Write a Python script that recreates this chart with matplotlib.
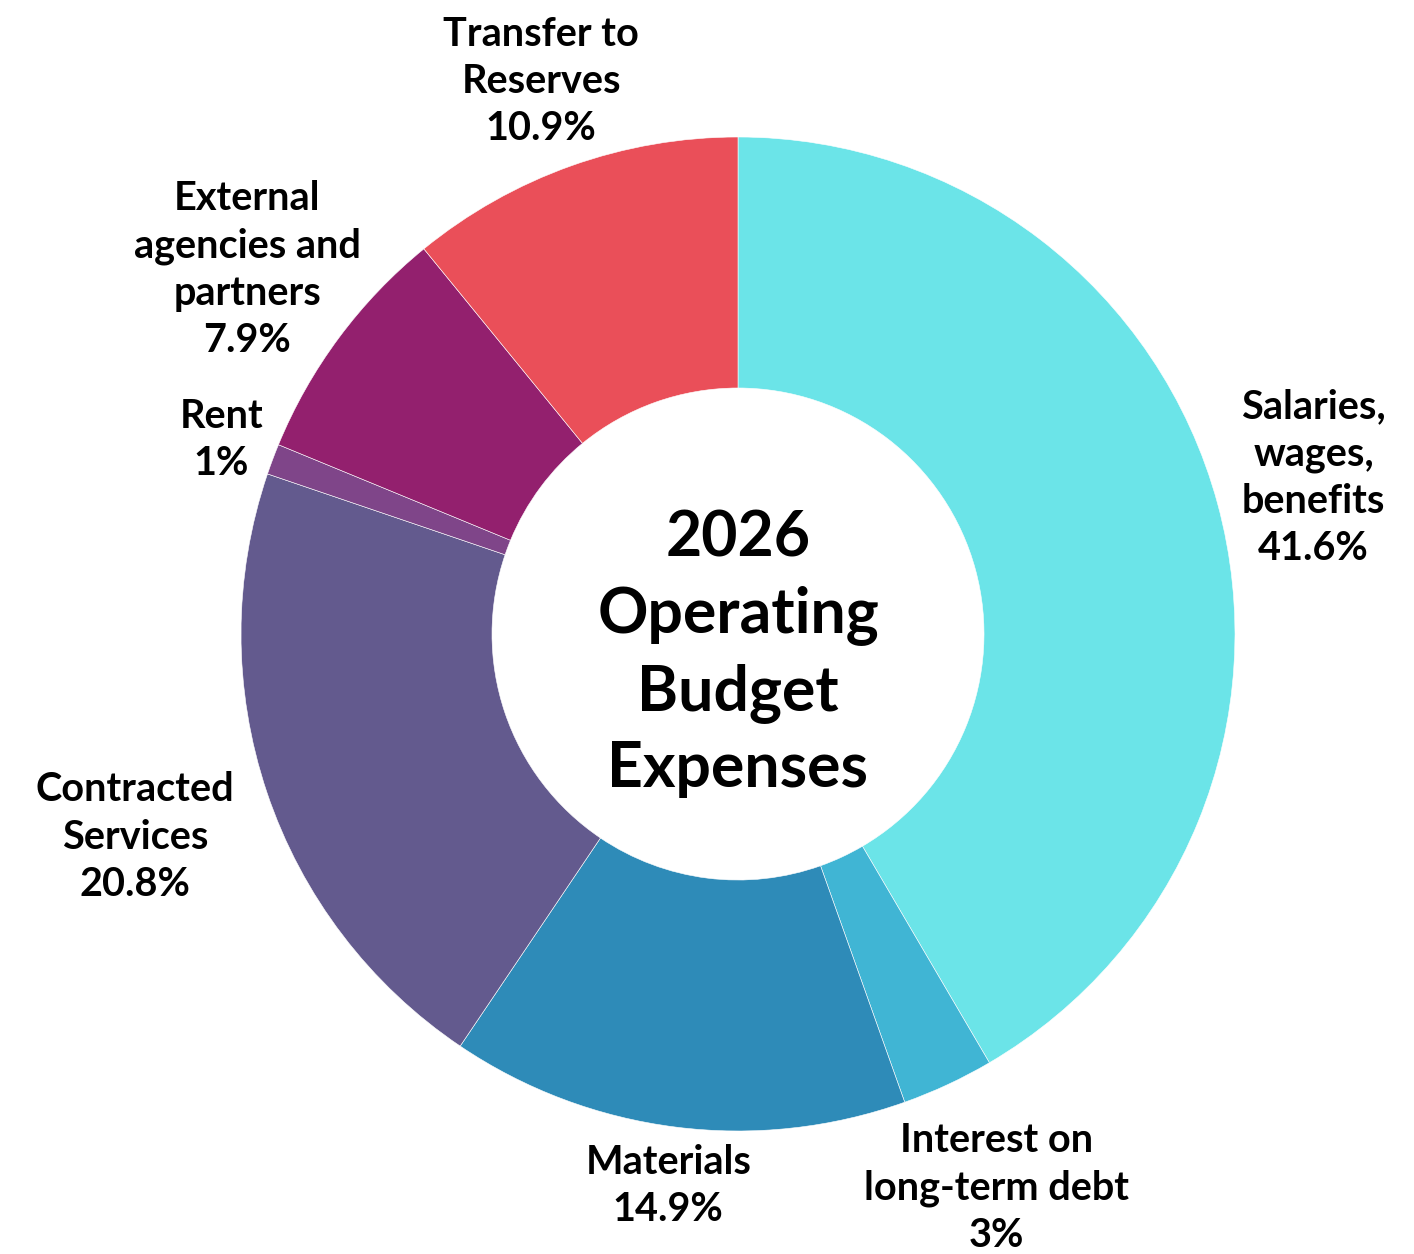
import numpy as np
from matplotlib import pyplot as plt

categories = ['Salaries,\nwages,\nbenefits', 'Interest on\nlong-term debt',
              'Materials', 'Contracted\nServices', 'Rent',
              'External\nagencies and\npartners', 'Transfer to\nReserves']
shares = [41.6, 3, 14.9, 20.8, 1, 7.9, 10.9]
pct_text = ['41.6%', '3%', '14.9%', '20.8%', '1%', '7.9%', '10.9%']

colors = ['#6BE4E8', '#40B5D4', '#2E8BB8', '#635A8E', '#7F4589', '#93206E', '#EA4F59']
# how far out each label sits, in units of the outer radius
label_r = [1.20, 1.23, 1.12, 1.28, 1.11, 1.23, 1.18]

plt.rcParams['font.family'] = ['Lato', 'DejaVu Sans']

fig = plt.figure(figsize=(14.14, 12.54), dpi=100)
ax = fig.add_axes([0, 0, 1, 1])

wedges, _ = ax.pie(shares, colors=colors, startangle=90, counterclock=False,
                   radius=1.0, wedgeprops=dict(width=0.505, edgecolor='white', linewidth=0.4))

for w, name, pct, r in zip(wedges, categories, pct_text, label_r):
    ang = np.deg2rad((w.theta1 + w.theta2) / 2)
    ax.text(r * np.cos(ang), r * np.sin(ang), name + '\n' + pct,
            ha='center', va='center', fontsize=28.5, fontweight='bold',
            linespacing=1.34, color='black')

ax.text(0, -0.04, '2026\nOperating\nBudget\nExpenses', ha='center', va='center',
        fontsize=45, fontweight='bold', linespacing=1.37, color='black')

ax.set_xlim(-738 / 497, (1414 - 738) / 497)
ax.set_ylim((634 - 1254) / 497, 634 / 497)
ax.set_aspect('equal')
ax.axis('off')

plt.savefig('out.png', dpi=100)
